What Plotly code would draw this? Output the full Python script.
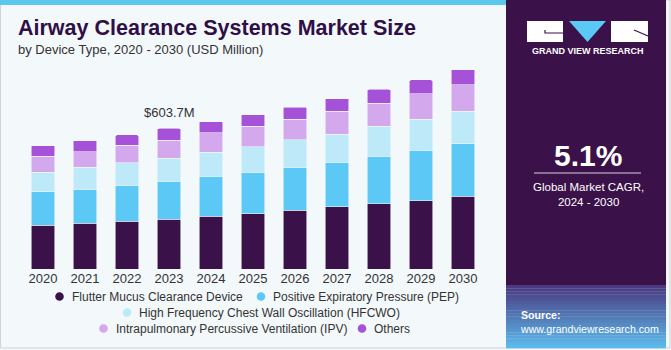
import plotly.graph_objects as go

years = ["2020", "2021", "2022", "2023", "2024", "2025", "2026", "2027", "2028", "2029", "2030"]
flutter = [187.2, 197.5, 206.1, 214.6, 225.9, 237.5, 253.3, 267.5, 280.4, 293.3, 311.7]
pep = [144.7, 144.3, 152.9, 161.5, 171.8, 177.3, 182.9, 191.9, 203.1, 216.0, 226.3]
hfcwo = [84.6, 94.5, 97.5, 98.8, 103.1, 110.4, 118.9, 118.5, 128.8, 133.1, 140.4]
ipv = [68.7, 67.4, 74.3, 79.0, 83.3, 87.2, 87.2, 98.8, 98.8, 109.1, 112.9]
others = [44.2, 47.2, 44.7, 49.8, 48.5, 50.2, 53.2, 54.5, 60.1, 60.1, 64.4]

series_names = [
    "Flutter Mucus Clearance Device",
    "Positive Expiratory Pressure (PEP)",
    "High Frequency Chest Wall Oscillation (HFCWO)",
    "Intrapulmonary Percussive Ventilation (IPV)",
    "Others",
]
series_values = [flutter, pep, hfcwo, ipv, others]
colors = ["#3a1148", "#5bc8f5", "#bde9f8", "#d4a8ec", "#a552d8"]

highlight_year = "2023"
highlight_label = "$603.7M"
cagr_value = "5.1%"
cagr_text = "Global Market CAGR,<br>2024 - 2030"

BG = "#f3f8fb"
DARK = "#3a1148"
TXT = "#333333"
FONT = "Liberation Sans, Arial, sans-serif"

# figure geometry (pixels)
FW, FH = 671, 350
L, R, T, B = 22, 187, 60, 81
PW = FW - L - R
PH = FH - T - B


def px(x):
    return (x - L) / PW


def py(y):
    return (FH - B - y) / PH


fig = go.Figure()
for name, vals, col in zip(series_names, series_values, colors):
    fig.add_trace(go.Bar(
        x=years, y=vals, name=name,
        marker=dict(color=col, line=dict(color="rgba(243,248,251,0.7)", width=0.8)),
        hoverinfo="y+name",
    ))

hl_idx = years.index(highlight_year)
total_hl = sum(v[hl_idx] for v in series_values)

shapes = []
annotations = []

# card background border
shapes.append(dict(type="rect", xref="paper", yref="paper",
                   x0=px(0.5), x1=px(670), y0=py(348), y1=py(0),
                   line=dict(color="#cfd3d6", width=1), fillcolor=BG, layer="below"))
# top blue strip
shapes.append(dict(type="rect", xref="paper", yref="paper",
                   x0=px(0), x1=px(506), y0=py(5), y1=py(0),
                   line=dict(width=0), fillcolor="#5bc8f0", layer="below"))
# right panel
shapes.append(dict(type="rect", xref="paper", yref="paper",
                   x0=px(506), x1=px(666), y0=py(285), y1=py(0),
                   line=dict(width=0), fillcolor=DARK, layer="below"))
# gradient source box
n = 20
c0 = (74, 58, 128)
c1 = (92, 185, 235)
for i in range(n):
    t = i / (n - 1)
    c = tuple(int(c0[k] + (c1[k] - c0[k]) * t) for k in range(3))
    y0 = 285 + i * (348 - 285) / n
    y1 = 285 + (i + 1) * (348 - 285) / n
    shapes.append(dict(type="rect", xref="paper", yref="paper",
                       x0=px(506), x1=px(666), y0=py(y1 + 0.3), y1=py(y0),
                       line=dict(width=0), fillcolor="rgb(%d,%d,%d)" % c, layer="below"))

# logo
shapes.append(dict(type="rect", xref="paper", yref="paper",
                   x0=px(527), x1=px(563), y0=py(42), y1=py(21),
                   line=dict(width=0), fillcolor="white"))
shapes.append(dict(type="path", xref="paper", yref="paper",
                   path="M %f %f L %f %f L %f %f" % (px(545), py(30), px(545), py(33), px(563), py(33)),
                   line=dict(color=DARK, width=1.2)))
shapes.append(dict(type="path", xref="paper", yref="paper",
                   path="M %f %f L %f %f L %f %f Z" % (px(569), py(21), px(606), py(21), px(587.5), py(42)),
                   line=dict(width=0), fillcolor="#5bc8f5"))
shapes.append(dict(type="rect", xref="paper", yref="paper",
                   x0=px(611), x1=px(648), y0=py(42), y1=py(21),
                   line=dict(width=0), fillcolor="white"))
shapes.append(dict(type="line", xref="paper", yref="paper",
                   x0=px(634), x1=px(648), y0=py(30), y1=py(36),
                   line=dict(color=DARK, width=1.2)))
annotations.append(dict(text="<b>GRAND VIEW RESEARCH</b>", xref="paper", yref="paper",
                        x=px(588), y=py(51), xanchor="center", yanchor="middle",
                        showarrow=False, font=dict(family=FONT, size=9, color="white")))

# CAGR
annotations.append(dict(text="<b>%s</b>" % cagr_value, xref="paper", yref="paper",
                        x=px(588), y=py(155), xanchor="center", yanchor="middle",
                        showarrow=False, font=dict(family=FONT, size=30, color="white")))
shapes.append(dict(type="line", xref="paper", yref="paper",
                   x0=px(534), x1=px(641), y0=py(173), y1=py(173),
                   line=dict(color="#d8d0e0", width=1)))
annotations.append(dict(text=cagr_text, xref="paper", yref="paper",
                        x=px(588), y=py(194), xanchor="center", yanchor="middle",
                        showarrow=False, font=dict(family=FONT, size=11.5, color="white")))

# source
annotations.append(dict(text="<b>Source:</b><br>www.grandviewresearch.com", xref="paper", yref="paper",
                        x=px(518), y=py(322), xanchor="left", yanchor="middle", align="left",
                        showarrow=False, font=dict(family=FONT, size=10.6, color="white")))

# title
annotations.append(dict(text="<b>Airway Clearance Systems Market Size</b>", xref="paper", yref="paper",
                        x=px(16), y=py(28), xanchor="left", yanchor="middle",
                        showarrow=False, font=dict(family=FONT, size=21.5, color="#2f0f45")))
annotations.append(dict(text="by Device Type, 2020 - 2030 (USD Million)", xref="paper", yref="paper",
                        x=px(16), y=py(49), xanchor="left", yanchor="middle",
                        showarrow=False, font=dict(family=FONT, size=13, color=TXT)))

# highlight label
annotations.append(dict(text=highlight_label, x=hl_idx, y=total_hl, xref="x", yref="y",
                        yshift=16, xanchor="center", yanchor="middle", showarrow=False,
                        font=dict(family=FONT, size=13, color=TXT)))

# custom legend
legend_pos = [(59.5, 296.5), (261, 296.5), (127, 312.5), (103.5, 328.5), (362, 328.5)]
for (lx, ly), name, col in zip(legend_pos, series_names, colors):
    shapes.append(dict(type="circle", xref="paper", yref="paper",
                       x0=px(lx - 4.3), x1=px(lx + 4.3), y0=py(ly + 4.3), y1=py(ly - 4.3),
                       line=dict(width=0), fillcolor=col))
    annotations.append(dict(text=name, xref="paper", yref="paper",
                            x=px(lx + 10), y=py(ly), xanchor="left", yanchor="middle",
                            showarrow=False, font=dict(family=FONT, size=12, color=TXT)))

ymax = 603.7 / 140.6 * PH

fig.update_layout(
    width=FW, height=FH,
    margin=dict(l=L, r=R, t=T, b=B, pad=0),
    barmode="stack", bargap=0.43, barcornerradius=2,
    paper_bgcolor=BG, plot_bgcolor="rgba(0,0,0,0)",
    showlegend=False,
    shapes=shapes, annotations=annotations,
    xaxis=dict(type="category", showgrid=False, showline=False, zeroline=False, ticks="",
               tickfont=dict(family=FONT, size=13, color=TXT), range=[-0.5, 10.5],
               fixedrange=True),
    yaxis=dict(visible=False, range=[0, ymax], fixedrange=True),
    font=dict(family=FONT),
)

fig.write_html("out.html")
